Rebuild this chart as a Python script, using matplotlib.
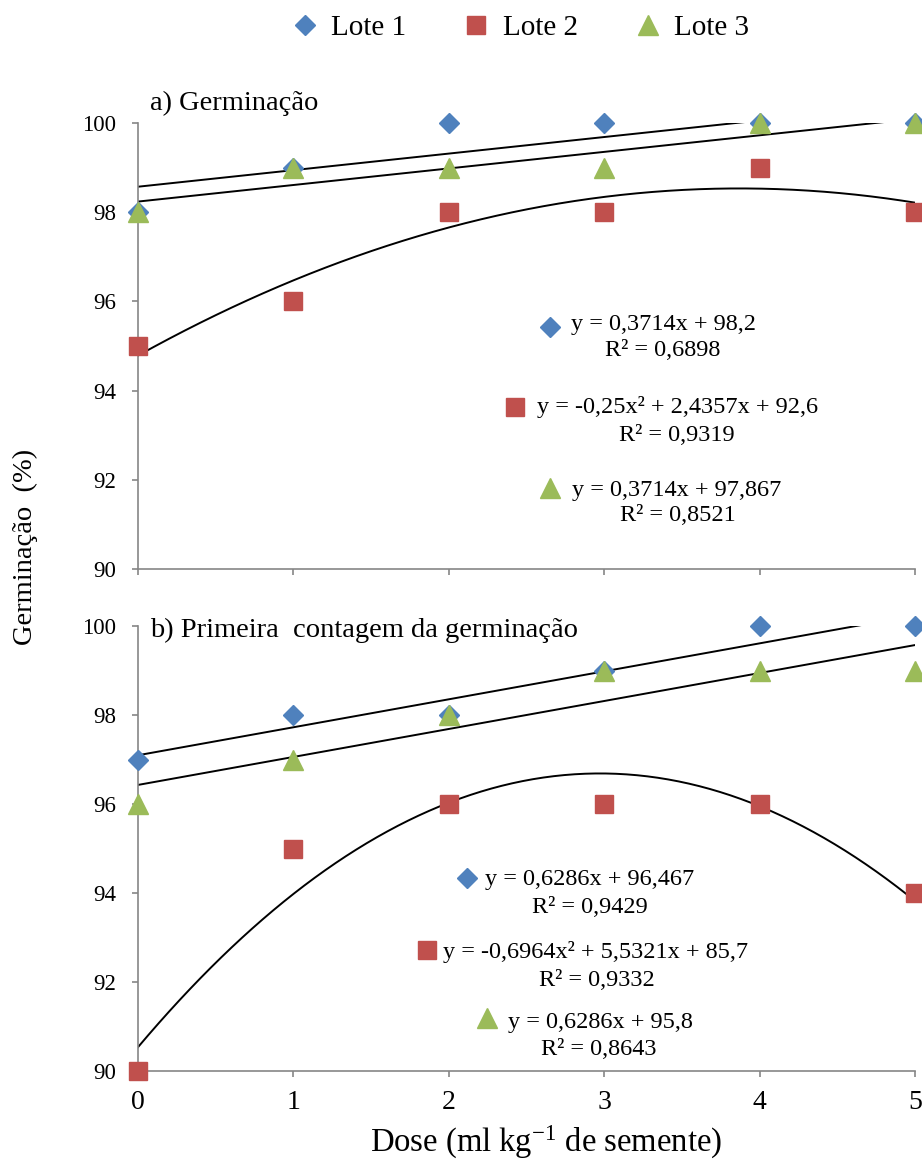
import numpy as np
import matplotlib
matplotlib.use("Agg")
import matplotlib.pyplot as plt
from matplotlib.lines import Line2D

plt.rcParams['font.family'] = ['Liberation Serif', 'DejaVu Serif']
plt.rcParams['mathtext.fontset'] = 'custom'
plt.rcParams['mathtext.rm'] = 'Liberation Serif'
plt.rcParams['mathtext.it'] = 'Liberation Serif:italic'

# ---------------- data ----------------
doses = [0, 1, 2, 3, 4, 5]
series_names = ["Lote 1", "Lote 2", "Lote 3"]

# a) Germinação
germ_lote1 = [98, 99, 100, 100, 100, 100]
germ_lote2 = [95, 96, 98, 98, 99, 98]
germ_lote3 = [98, 99, 99, 99, 100, 100]
# trendline coefficients (highest power first), Excel x = category index (dose + 1)
germ_fit1 = [0.3714, 98.2]
germ_fit2 = [-0.25, 2.4357, 92.6]
germ_fit3 = [0.3714, 97.867]
germ_eq = ["y = 0,3714x + 98,2", "y = -0,25x² + 2,4357x + 92,6", "y = 0,3714x + 97,867"]
germ_r2 = ["R² = 0,6898", "R² = 0,9319", "R² = 0,8521"]

# b) Primeira contagem da germinação
pc_lote1 = [97, 98, 98, 99, 100, 100]
pc_lote2 = [90, 95, 96, 96, 96, 94]
pc_lote3 = [96, 97, 98, 99, 99, 99]
pc_fit1 = [0.6286, 96.467]
pc_fit2 = [-0.6964, 5.5321, 85.7]
pc_fit3 = [0.6286, 95.8]
pc_eq = ["y = 0,6286x + 96,467", "y = -0,6964x² + 5,5321x + 85,7", "y = 0,6286x + 95,8"]
pc_r2 = ["R² = 0,9429", "R² = 0,9332", "R² = 0,8643"]

yticks = [90, 92, 94, 96, 98, 100]

# ---------------- style ----------------
W, H = 922, 1163
colors = ["#4F81BD", "#C0504D", "#9BBB59"]
markers = ["D", "s", "^"]
msizes = [10.5, 13, 14]
gray = "#868686"

fig = plt.figure(figsize=(W / 100, H / 100), dpi=100)


def fx(px):
    return px / W


def fy(py):
    return 1 - py / H


ax1 = fig.add_axes([fx(138), fy(569), (915 - 138) / W, 446 / H])
ax2 = fig.add_axes([fx(138), fy(1071), (915 - 138) / W, 445 / H])

panels = [
    (ax1, [germ_lote1, germ_lote2, germ_lote3], [germ_fit1, germ_fit2, germ_fit3], germ_eq, germ_r2),
    (ax2, [pc_lote1, pc_lote2, pc_lote3], [pc_fit1, pc_fit2, pc_fit3], pc_eq, pc_r2),
]

xs = np.linspace(0, 5, 300)
handles = []
for ax, vals, fits, eqs, r2s in panels:
    for i, v in enumerate(vals):
        ax.plot(xs, np.polyval(fits[i], xs + 1), color="black", lw=1.4, zorder=2)
    for i, v in enumerate(vals):
        h, = ax.plot(doses, v, linestyle="none", marker=markers[i], ms=msizes[i],
                     color=colors[i], mec=colors[i], clip_on=False, zorder=3,
                     label=series_names[i])
        if ax is ax1:
            handles.append(h)
    ax.set_xlim(0, 5)
    ax.set_ylim(90, 100)
    ax.set_yticks(yticks)
    ax.set_xticks(doses)
    for s in ["top", "right"]:
        ax.spines[s].set_visible(False)
    for s in ["left", "bottom"]:
        ax.spines[s].set_color(gray)
        ax.spines[s].set_linewidth(1.2)
    ax.tick_params(axis="both", direction="out", length=4.5, width=1.2, color=gray)
    ax.tick_params(axis="y", labelsize=16.5, pad=11)
    ax.tick_params(axis="x", labelsize=20, pad=9)

ax1.tick_params(axis="x", labelbottom=False)

# panel titles
fig.text(fx(150), fy(110), "a) Germinação", fontsize=20.5, va="baseline", ha="left")
fig.text(fx(150), fy(637), "b) Primeira  contagem da germinação", fontsize=20.5,
         va="baseline", ha="left")

# trendline equations
eq_layout = [
    # (marker x, marker y, text x line1, baseline1, text x line2, baseline2)
    [(550, 327, 663, 330, 663, 356), (515, 407, 678, 413, 677, 441), (550, 488, 677, 496, 678, 521)],
    [(467, 878, 590, 885, 590, 913), (427, 950, 596, 958, 597, 986), (487, 1018, 600, 1028, 599, 1055)],
]
for p, (ax, vals, fits, eqs, r2s) in enumerate(panels):
    for i in range(3):
        mx, my, t1x, t1y, t2x, t2y = eq_layout[p][i]
        fig.add_artist(Line2D([fx(mx)], [fy(my)], marker=markers[i], ms=msizes[i],
                              color=colors[i], mec=colors[i], linestyle="none",
                              transform=fig.transFigure))
        fig.text(fx(t1x), fy(t1y), eqs[i], fontsize=17.5, ha="center", va="baseline")
        fig.text(fx(t2x), fy(t2y), r2s[i], fontsize=17.5, ha="center", va="baseline")

# axis labels
fig.text(fx(25), fy(547), "Germinação  (%)", rotation=90, fontsize=20.5, ha="center", va="center")
fig.text(fx(546), fy(1152), "Dose (ml kg$^{-1}$ de semente)", fontsize=23.5, ha="center",
         va="baseline")

# legend
fig.legend(handles=handles, loc="center", bbox_to_anchor=(fx(521), fy(28)), ncol=3,
           frameon=False, fontsize=21, handlelength=0.8, handletextpad=0.5,
           columnspacing=2.0, borderpad=0, numpoints=1)

fig.savefig("out.png", dpi=100)
